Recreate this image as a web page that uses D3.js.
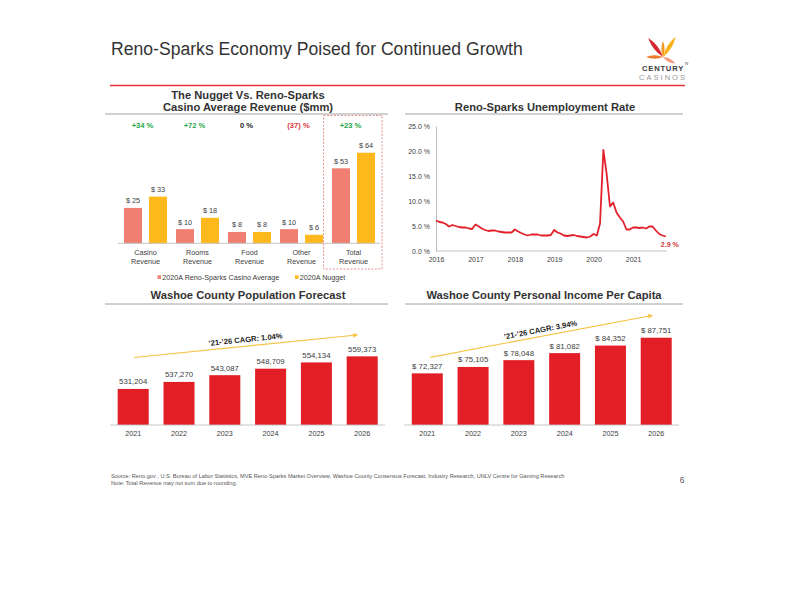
<!DOCTYPE html>
<html><head><meta charset="utf-8">
<script src="https://cdn.jsdelivr.net/npm/d3@7"></script>
<style>
body{margin:0;background:#fff;}
svg{display:block;font-family:"Liberation Sans",Arial,sans-serif;}
</style></head>
<body>
<svg id="c" width="792" height="612"></svg>
<script>
// ---------------- DATA ----------------
const pageTitle = "Reno-Sparks Economy Poised for Continued Growth";

const revCategories = [["Casino","Revenue"],["Rooms","Revenue"],["Food","Revenue"],["Other","Revenue"],["Total","Revenue"]];
const revSeries = ["2020A Reno-Sparks Casino Average","2020A Nugget"];
const renoAvg = [25, 10, 8, 10, 53];
const nugget = [33, 18, 8, 6, 64];
const pctChange = ["+34 %","+72 %","0 %","(37) %","+23 %"];
const pctSign = ["pos","pos","zero","neg","pos"];

const unempStart = [2016, 0]; // Jan 2016, monthly
const unempRate = [
  6.1,5.8,5.7,5.4,4.9,5.2,5.0,4.8,4.7,4.7,4.5,4.4,
  5.3,4.9,4.5,4.2,4.0,4.1,4.1,3.9,3.8,3.7,3.7,3.7,
  4.3,3.9,3.6,3.3,3.1,3.3,3.3,3.3,3.1,3.1,3.1,3.2,
  4.2,3.7,3.5,3.1,3.0,3.1,3.2,3.0,2.9,2.8,2.7,2.9,
  3.4,3.1,5.5,20.2,15.5,8.9,9.7,7.7,6.7,5.9,4.3,4.3,
  4.7,4.7,4.6,4.7,4.5,4.9,4.9,4.1,3.4,3.1,2.9
];
const unempYTicks = [0,5,10,15,20,25];
const unempXTicks = [2016,2017,2018,2019,2020,2021];
const unempLastLabel = "2.9 %";

const years = ["2021","2022","2023","2024","2025","2026"];
const population = [531204, 537270, 543087, 548709, 554134, 559373];
const popCagr = "\u201921-\u201926 CAGR:  1.04%";
const income = [72327, 75105, 78048, 81082, 84352, 87751];
const incCagr = "\u201921-\u201926 CAGR:  3.94%";

const sourceText = "Source: Reno.gov , U.S. Bureau of Labor Statistics, MVE Reno-Sparks Market Overview, Washoe County Consensus Forecast, Industry Research, UNLV Centre for Gaming Research";
const noteText = "Note: Total Revenue may not sum due  to rounding.";
const pageNum = "6";

// ---------------- STYLE ----------------
const C = {
  pink:"#F07F71", yellow:"#FFB91D", red:"#E21E27", line:"#E2202B",
  green:"#2BA84A", negRed:"#D9373D", text:"#404040", title:"#333333",
  axis:"#BFBFBF", rule:"#8C8C8C", arrow:"#F5C345"
};
const svg = d3.select("#c");
const fmtComma = d3.format(",");

// ---------------- PAGE HEADER ----------------
svg.append("text").attr("x",111).attr("y",55).attr("font-size",17.6)
  .attr("fill",C.title).text(pageTitle);
svg.append("line").attr("x1",110).attr("x2",685).attr("y1",85.5).attr("y2",85.5)
  .attr("stroke","#E5333A").attr("stroke-width",1.6);

// logo
const logo = svg.append("g");
const petals = [
  {a:-128, len:24, w:4.2, c:"#D62730"},
  {a:-58,  len:24, w:4.2, c:"#F7B21C"},
  {a:-90,  len:16, w:3.2, c:"#F39A1E"},
  {a:180,  len:17, w:3.6, c:"#EE7A2A"},
  {a:28,   len:14, w:3.4, c:"#F29B83"},
];
petals.forEach(p=>{
  const g = logo.append("g").attr("transform",`translate(663,57) rotate(${p.a})`);
  g.append("path").attr("d",`M0,0 Q${p.len*0.5},${-p.w} ${p.len},0 Q${p.len*0.5},${p.w} 0,0Z`).attr("fill",p.c);
});
logo.append("text").attr("x",663).attr("y",70.8).attr("text-anchor","middle")
  .attr("font-size",7.6).attr("font-weight","bold").attr("fill","#3A3A3A").attr("letter-spacing",0.8).text("CENTURY");
logo.append("text").attr("x",684.5).attr("y",64.5).attr("font-size",2.6).attr("fill","#3A3A3A").text("TM");
logo.append("text").attr("x",663).attr("y",79.8).attr("text-anchor","middle")
  .attr("font-size",7.6).attr("fill","#9A9A9A").attr("letter-spacing",2).text("CASINOS");

// section title helper
function sectionTitle(lines, cx, y0, x1, x2, ruleY){
  lines.forEach((t,i)=>svg.append("text").attr("x",cx).attr("y",y0+i*12.2)
    .attr("text-anchor","middle").attr("font-size",11.2).attr("font-weight","bold")
    .attr("fill",C.title).text(t));
  svg.append("line").attr("x1",x1).attr("x2",x2).attr("y1",ruleY).attr("y2",ruleY)
    .attr("stroke",C.rule).attr("stroke-width",0.8);
}

// ---------------- CHART 1: Revenue ----------------
sectionTitle(["The Nugget Vs. Reno-Sparks","Casino Average Revenue ($mm)"],248,99,105,388,114);
{
  const keys = revCategories.map(d=>d.join(" "));
  const x0 = d3.scaleBand().domain(keys).range([119.5,379.5]);
  const x1 = d3.scaleBand().domain(revSeries).range([4.5,47.5]).paddingInner(0.28);
  const y = d3.scaleLinear().domain([0,80]).range([243.3,243.3-80*1.415]);
  const g = svg.append("g");
  const rows = keys.map((k,i)=>({k, vals:[renoAvg[i],nugget[i]], i}));
  const grp = g.selectAll("g.grp").data(rows).join("g").attr("transform",d=>`translate(${x0(d.k)},0)`);
  grp.selectAll("rect").data(d=>d.vals.map((v,j)=>({v,s:revSeries[j],j}))).join("rect")
    .attr("x",d=>x1(d.s)).attr("width",x1.bandwidth())
    .attr("y",d=>y(d.v)).attr("height",d=>y(0)-y(d.v))
    .attr("fill",d=>d.j===0?C.pink:C.yellow);
  grp.selectAll("text.val").data(d=>d.vals.map((v,j)=>({v,s:revSeries[j]}))).join("text")
    .attr("class","val").attr("x",d=>x1(d.s)+x1.bandwidth()/2).attr("y",d=>y(d.v)-4.5)
    .attr("text-anchor","middle").attr("font-size",7.3).attr("fill",C.text).text(d=>"$ "+d.v);
  // baseline
  g.append("line").attr("x1",118).attr("x2",380).attr("y1",y(0)).attr("y2",y(0))
    .attr("stroke",C.axis).attr("stroke-width",0.9);
  // category labels
  grp.each(function(d,i){
    revCategories[i].forEach((t,j)=>d3.select(this).append("text")
      .attr("x",x0.bandwidth()/2).attr("y",255+j*8.8).attr("text-anchor","middle")
      .attr("font-size",7.2).attr("fill",C.text).text(t));
  });
  // pct changes
  grp.append("text").attr("x",x0.bandwidth()/2-3).attr("y",128).attr("text-anchor","middle")
    .attr("font-size",7.6).attr("font-weight","bold")
    .attr("fill",d=>pctSign[d.i]==="pos"?C.green:pctSign[d.i]==="neg"?C.negRed:"#222")
    .text(d=>pctChange[d.i]);
  // dashed box around total
  const tk = keys[keys.length-1];
  g.append("rect").attr("x",x0(tk)-4).attr("y",115.5).attr("width",x0.bandwidth()+6.5).attr("height",153.5)
    .attr("fill","none").attr("stroke","#E58A8C").attr("stroke-width",0.9).attr("stroke-dasharray","2,1.5");
  // legend
  const leg = [{x:157.5,c:C.pink,t:revSeries[0]},{x:295,c:C.yellow,t:revSeries[1]}];
  leg.forEach(l=>{
    g.append("rect").attr("x",l.x).attr("y",275.3).attr("width",3.6).attr("height",3.6).attr("fill",l.c);
    g.append("text").attr("x",l.x+4.8).attr("y",279.6).attr("font-size",7.2).attr("fill",C.text).text(l.t);
  });
}

// ---------------- CHART 2: Unemployment ----------------
sectionTitle(["Reno-Sparks Unemployment Rate"],545,110.5,405,683,114);
{
  const x = d3.scaleTime().domain([new Date(2016,0,1),new Date(2022,0,1)]).range([436,436+6*39.4]);
  const y = d3.scaleLinear().domain([0,25]).range([251,126]);
  const pts = unempRate.map((v,i)=>({d:new Date(unempStart[0],unempStart[1]+i,1),v}));
  const g = svg.append("g");
  const yAxis = d3.axisLeft(y).tickValues(unempYTicks).tickSize(0).tickPadding(6)
    .tickFormat(d=>d3.format(".1f")(d)+" %");
  const ya = g.append("g").attr("transform","translate(436,0)").call(yAxis);
  ya.select(".domain").attr("stroke",C.axis);
  ya.selectAll("text").attr("font-size",7).attr("fill",C.text).attr("font-family","Liberation Sans, Arial, sans-serif");
  const xAxis = d3.axisBottom(x).tickValues(unempXTicks.map(t=>new Date(t,0,1))).tickSize(0).tickPadding(6)
    .tickFormat(d3.timeFormat("%Y"));
  const xa = g.append("g").attr("transform","translate(0,251)").call(xAxis);
  xa.select(".domain").attr("stroke",C.axis).attr("d","M436,0H667");
  xa.selectAll("text").attr("font-size",7).attr("fill",C.text).attr("font-family","Liberation Sans, Arial, sans-serif");
  g.append("path").datum(pts).attr("fill","none").attr("stroke",C.line).attr("stroke-width",1.8)
    .attr("stroke-linejoin","round")
    .attr("d",d3.line().x(d=>x(d.d)).y(d=>y(d.v)));
  const last = pts[pts.length-1];
  g.append("text").attr("x",x(last.d)+4).attr("y",y(last.v)+10).attr("text-anchor","middle")
    .attr("font-size",7).attr("font-weight","bold").attr("fill",C.negRed).text(unempLastLabel);
}

// ---------------- Bar charts with CAGR ----------------
function barChart(opts){
  const {values, range, domain, fmt, cagr, startOff, endOff} = opts;
  const x = d3.scaleBand().domain(years).range(range).paddingInner(0.323).paddingOuter(0.1615);
  const y = d3.scaleLinear().domain(domain).range([425, 425-115.6]);
  const g = svg.append("g");
  const data = years.map((yr,i)=>({yr,v:values[i]}));
  g.selectAll("rect").data(data).join("rect")
    .attr("x",d=>x(d.yr)).attr("width",x.bandwidth())
    .attr("y",d=>y(d.v)).attr("height",d=>y(domain[0])-y(d.v)).attr("fill",C.red);
  g.selectAll("text.val").data(data).join("text").attr("class","val")
    .attr("x",d=>x(d.yr)+x.bandwidth()/2).attr("y",d=>y(d.v)-4.5).attr("text-anchor","middle")
    .attr("font-size",7.8).attr("fill",C.text).text(d=>fmt(d.v));
  g.append("line").attr("x1",range[0]).attr("x2",range[1]).attr("y1",425).attr("y2",425)
    .attr("stroke",C.axis).attr("stroke-width",0.9);
  const xa = g.append("g").attr("transform","translate(0,425)")
    .call(d3.axisBottom(x).tickSize(0).tickPadding(6));
  xa.select(".domain").remove();
  xa.selectAll("text").attr("font-size",7.2).attr("fill",C.text).attr("font-family","Liberation Sans, Arial, sans-serif");
  // CAGR arrow
  const first = data[0], lastD = data[data.length-1];
  const x1 = x(first.yr)+x.bandwidth()/2+opts.dx1, y1 = y(first.v)-startOff;
  const x2 = x(lastD.yr)+x.bandwidth()/2+opts.dx2, y2 = y(lastD.v)-endOff;
  const ang = Math.atan2(y2-y1,x2-x1);
  g.append("line").attr("x1",x1).attr("y1",y1)
    .attr("x2",x2-4*Math.cos(ang)).attr("y2",y2-4*Math.sin(ang))
    .attr("stroke",C.arrow).attr("stroke-width",1.1);
  g.append("path").attr("transform",`translate(${x2},${y2}) rotate(${ang*180/Math.PI})`)
    .attr("d","M0,0L-5,-2.3L-5,2.3Z").attr("fill",C.arrow);
  const mx=(x1+x2)/2+opts.tdx, my=(y1+y2)/2;
  g.append("text").attr("transform",`translate(${mx},${my}) rotate(${ang*180/Math.PI}) translate(0,-4)`)
    .attr("text-anchor","middle").attr("font-size",7.6).attr("font-weight","bold").attr("fill","#222")
    .text(cagr);
}

sectionTitle(["Washoe County Population Forecast"],248,299,105,388,304);
barChart({values:population, range:[110.3,385.1], domain:[500000,600000],
  fmt:d=>fmtComma(d), cagr:popCagr, startOff:31.5, endOff:21.5, dx1:1, dx2:-4, tdx:0});

sectionTitle(["Washoe County Personal Income Per Capita"],544,299,405,683,304);
barChart({values:income, range:[404.4,679.1], domain:[50000,100000],
  fmt:d=>"$ "+fmtComma(d), cagr:incCagr, startOff:16, endOff:22.5, dx1:3, dx2:-3, tdx:0});

// ---------------- FOOTER ----------------
svg.append("text").attr("x",111).attr("y",478).attr("font-size",5.6).attr("fill","#555").text(sourceText);
svg.append("text").attr("x",111).attr("y",485).attr("font-size",5.6).attr("fill","#555").text(noteText);
svg.append("text").attr("x",682).attr("y",483).attr("text-anchor","middle").attr("font-size",8.5).attr("fill","#555").text(pageNum);
</script>
</body></html>
